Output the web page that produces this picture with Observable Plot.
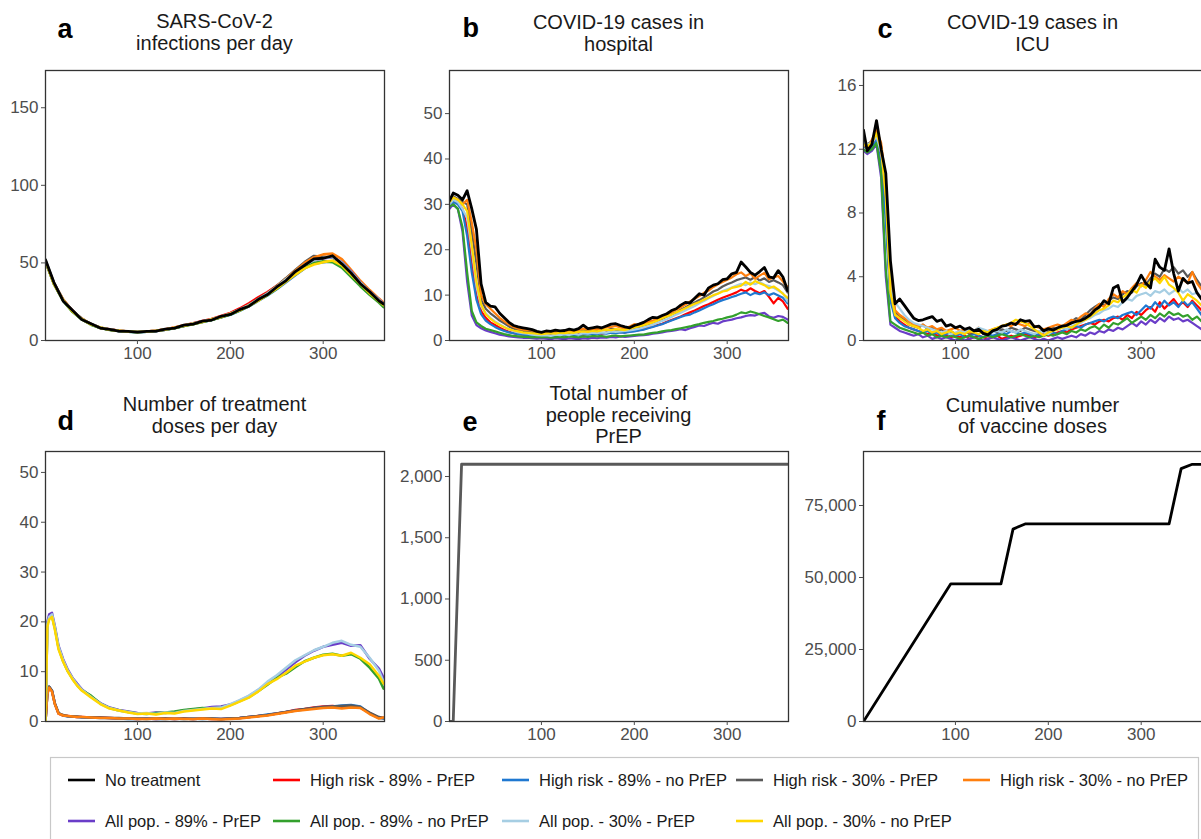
<!DOCTYPE html>
<html><head><meta charset="utf-8">
<script src="https://cdn.jsdelivr.net/npm/d3@7"></script>
<script src="https://cdn.jsdelivr.net/npm/@observablehq/plot@0.6"></script>
<style>
html,body{margin:0;padding:0;background:#fff;}
body{width:1201px;height:839px;overflow:hidden;position:relative;font-family:"Liberation Sans",Arial,sans-serif;}
.panel{position:absolute;}
.panel svg{max-width:none !important;display:block;background:transparent;}
.panel svg text{font-size:17px !important;font-family:"Liberation Sans",Arial,sans-serif !important;fill:#4d4d4d;}
#overlay{position:absolute;left:0;top:0;pointer-events:none;}
</style></head><body>
<div id="pa" class="panel" style="left:0px;top:60px"></div>
<div id="pb" class="panel" style="left:400px;top:60px"></div>
<div id="pc" class="panel" style="left:800px;top:60px"></div>
<div id="pd" class="panel" style="left:0px;top:441px"></div>
<div id="pe" class="panel" style="left:400px;top:441px"></div>
<div id="pf" class="panel" style="left:800px;top:441px"></div>
<script>
// ---------- series ----------
const SERIES = ["No treatment","High risk - 89% - PrEP","High risk - 89% - no PrEP","High risk - 30% - PrEP","High risk - 30% - no PrEP","All pop. - 89% - PrEP","All pop. - 89% - no PrEP","All pop. - 30% - PrEP","All pop. - 30% - no PrEP"];
const COLORS = ["#000000","#ff0000","#1f78d1","#595959","#ff7f0e","#6a3dc8","#33a02c","#a6cee3","#ffd700"];
const DRAW_ORDER = [1,2,3,4,5,6,7,8,0];

// ---------- day grids ----------
const DAYS10 = [1,10,20,30,40,50,60,70,80,90,100,110,120,130,140,150,160,170,180,190,200,210,220,230,240,250,260,270,280,290,300,310,320,330,340,350,360,365];
const DAYS5 = [1,5,10,15,20,25,30,35,40,45,50,55,60,65,70,75,80,85,90,95,100,105,110,115,120,125,130,135,140,145,150,155,160,165,170,175,180,185,190,195,200,205,210,215,220,225,230,235,240,245,250,255,260,265,270,275,280,285,290,295,300,305,310,315,320,325,330,335,340,345,350,355,360,365];
const DAYS_D = [1,3,5,8,11,15,20,25,30,35,40,50,60,70,80,90,100,110,120,130,140,150,160,170,180,190,200,210,220,230,240,250,260,270,280,290,300,310,320,330,340,350,360,365];

// ---------- a: SARS-CoV-2 infections per day (DAYS10), in SERIES order ----------
const infections = [
 [52,37.5,25.5,19.5,13.5,10.8,8.0,7.2,6.1,5.9,5.4,5.9,6.0,7.3,8.0,9.9,10.6,12.5,13.2,15.6,16.8,19.9,22.1,26.4,29.6,34.5,38.6,44.4,48.5,52.6,53.0,54.6,49.4,43.5,36.6,31.4,25.6,23.5],
 [51,37,26.2,19.3,13.8,10.6,8.1,7.2,6.3,5.8,5.6,5.8,6.3,7.2,8.3,9.8,11.1,12.5,13.9,15.8,17.8,20.6,24.0,27.8,31.2,35.3,39.5,44.6,48.8,52.0,53.2,53.5,49.8,43.2,36.8,31.2,26.0,23.2],
 [51,36.8,25.8,18.9,14.1,10.3,8.2,7.0,6.2,5.7,5.4,5.7,6.2,7.0,8.0,9.3,10.6,12.0,13.3,15.0,16.6,19.2,22.0,25.5,29.0,33.0,37.5,42.0,46.5,49.5,50.5,51.0,48.0,42.0,36.0,30.5,25.5,22.5],
 [51.5,36.5,26,18.8,14,10.6,8.2,7.0,6.2,5.9,5.5,5.9,6.1,7.1,8.1,9.5,10.9,12.3,13.4,15.0,17.2,19.8,22.8,26.8,30.5,35.2,40.2,45.5,50.5,54.5,54.0,53.5,50.0,44.0,37.5,31.0,26.5,23.0],
 [51,37,26.5,19,14.2,10.4,8.4,7.1,6.4,5.7,5.6,5.8,6.4,7.0,8.4,9.4,11.0,12.0,13.8,15.3,17.4,19.6,23.0,26.5,30.4,35.0,39.8,45.0,50.0,53.5,55.5,56.0,52.5,45.5,38.5,32.5,27.0,24.5],
 [51.5,37.0,26.0,19.0,14.0,10.5,8.2,7.0,6.2,5.8,5.5,5.7,6.2,7.0,8.1,9.5,10.8,12.2,13.5,15.2,17.0,19.6,22.6,26.2,30.0,34.2,39.0,43.8,48.5,51.5,53.0,53.5,50.5,44.5,37.5,31.5,26.5,23.5],
 [51,36.5,25.5,18.5,13.6,10.2,8.0,6.8,6.1,5.7,5.4,5.6,6.1,6.9,7.9,9.4,10.5,11.9,13.2,15.0,16.8,19.3,22.2,25.8,29.3,33.4,38.2,42.8,47.0,50.0,51.0,50.5,47.0,41.0,35.0,29.5,24.5,21.5],
 [52,37.2,26.1,19.1,14.0,10.6,8.3,7.1,6.3,5.8,5.6,5.8,6.3,7.1,8.2,9.6,10.9,12.3,13.6,15.4,17.3,19.8,22.8,26.5,30.3,34.6,39.4,44.2,48.6,51.8,53.2,53.8,50.2,44.0,37.2,31.3,26.2,23.2],
 [51.5,36.5,26.0,18.8,13.9,10.4,8.3,6.9,6.3,5.8,5.5,5.8,6.3,7.1,8.2,9.6,10.7,12.1,13.6,15.2,17.1,19.4,22.3,25.7,29.5,33.5,38.0,42.5,46.5,49.0,50.5,51.5,48.5,42.5,36.5,30.5,25.5,22.8]
];

// ---------- b: COVID-19 cases in hospital (DAYS5), in SERIES order ----------
const hospital = [
 [30.8,32.5,32.0,31.0,33.0,29.0,24.5,12.5,8.4,7.6, 7.4,6.0,5.0,4.0,3.3,3.0,2.8,2.6,2.4,2.0, 1.8,2.1,2.0,2.3,2.1,2.2,2.5,2.3,2.6,3.4, 2.6,2.8,3.0,2.8,3.2,3.6,3.7,3.3,3.0,2.8, 3.3,3.6,4.0,4.6,5.1,5.0,5.5,5.9,6.6,7.0, 7.8,8.4,8.3,9.3,10.3,10.0,11.6,12.2,12.5,13.4, 13.6,14.7,15.0,17.3,16.2,15.0,14.4,15.2,16.1,14.0, 13.8,15.4,14.0,11.0],
 [30,31,30.5,29,25,17,10,6.5,5.0,4.0, 3.4,2.8,2.3,1.9,1.6,1.4,1.3,1.2,1.1,1.0, 1.1,0.9,1.1,1.0,1.2,1.1,1.3,1.2,1.4,1.3, 1.5,1.4,1.6,1.5,1.7,1.8,1.7,1.9,1.8,2.0, 2.1,2.3,2.5,2.8,3.1,3.4,3.7,4.1,4.5,4.9, 5.3,5.8,6.2,6.6,7.1,7.6,8.0,8.5,9.0,9.4, 9.8,10.2,10.6,11.2,10.8,11.5,10.9,10.4,10.9,9.6, 8.2,9.4,8.6,7.0],
 [29.5,30.5,30,28.5,23,15,9,5.8,4.4,3.6, 3.0,2.5,2.1,1.8,1.6,1.4,1.3,1.2,1.0,1.1, 0.9,1.0,1.1,0.9,1.0,1.2,1.1,1.3,1.2,1.4, 1.3,1.5,1.4,1.6,1.5,1.7,1.6,1.8,1.7,1.9, 2.0,2.2,2.4,2.7,3.0,3.3,3.6,4.0,4.4,4.8, 5.2,5.5,5.7,6.2,6.6,7.1,7.6,8.0,8.5,8.9, 9.2,9.6,9.9,10.3,10.6,10.0,10.5,10.2,10.6,10.0, 10.4,9.9,9.4,8.2],
 [30.5,31.8,31.2,30.5,30,24,17,9,7,6, 5.2,4.4,3.8,3.1,2.6,2.3,2.1,2.0,1.8,1.6, 1.5,1.6,1.7,1.6,1.8,1.9,1.7,2.0,1.9,2.2, 2.0,2.3,2.1,2.4,2.2,2.6,2.4,2.3,2.5,2.4, 2.8,3.0,3.3,3.6,4.0,4.4,4.8,5.3,5.8,6.2, 6.8,7.3,7.9,8.4,8.9,9.5,10.1,10.8,11.2,11.9, 12.4,12.8,13.3,13.6,13.9,13.4,14.0,13.2,13.7,12.9, 13.3,12.8,12.2,10.6],
 [31,31.5,31,30,31,26,20,10,8,7, 6,5,4.2,3.5,3,2.6,2.4,2.3,2.2,1.9, 1.7,1.8,1.9,2.0,1.8,2.0,2.2,2.0,2.3,2.6, 2.4,2.6,2.5,2.7,2.9,3.0,3.2,2.9,2.7,3.1, 3.6,3.3,3.7,4.1,4.4,4.8,5.2,5.6,6.2,6.8, 7.3,7.9,8.6,9.2,9.8,10.5,11.0,11.8,12.4,12.9, 13.4,13.9,14.6,15.0,14.2,14.8,13.6,14.3,14.9,13.5, 13.9,14.2,13.0,11.8],
 [29,30,29,24,13,5.5,3.4,2.7,2.2,1.9, 1.6,1.3,1.1,0.9,0.8,0.7,0.6,0.6,0.5,0.4, 0.5,0.4,0.3,0.5,0.4,0.3,0.5,0.4,0.3,0.5, 0.4,0.6,0.5,0.7,0.6,0.8,0.7,0.9,0.8,0.9, 1.0,1.1,1.2,1.3,1.5,1.6,1.8,2.0,2.1,2.3, 2.5,2.3,2.7,3.0,3.3,3.2,3.6,3.9,3.7,4.2, 4.4,4.6,4.9,5.1,5.4,5.6,5.5,5.9,6.1,5.3, 5.0,5.4,5.2,4.6],
 [29.5,30,29,25,15,6.5,4.0,3.2,2.6,2.3, 2.0,1.7,1.4,1.2,1.0,0.9,0.8,0.8,0.7,0.8, 0.7,0.8,0.6,0.7,0.8,0.7,0.9,0.8,0.7,0.9, 0.8,1.0,0.9,1.0,0.8,1.0,1.1,0.9,1.0,1.1, 1.2,1.3,1.3,1.5,1.7,1.8,2.0,2.2,2.3,2.5, 2.7,2.9,3.1,3.4,3.6,3.9,4.1,4.3,4.6,4.8, 5.1,5.3,5.7,6.2,6.0,6.4,6.1,5.8,5.4,5.1, 4.7,4.3,4.6,3.9],
 [30,31,30.5,29,27,20,12,7.5,6,5, 4.2,3.6,3.0,2.5,2.1,1.8,1.6,1.5,1.3,1.2, 1.1,1.2,1.0,1.3,1.2,1.4,1.2,1.5,1.3,1.6, 1.5,1.7,1.6,1.8,1.7,2.0,1.9,2.0,2.1,2.2, 2.4,2.6,2.9,3.2,3.5,3.9,4.3,4.7,5.2,5.7, 6.1,6.6,7.1,7.6,8.2,8.7,9.3,9.8,10.4,10.9, 11.3,11.7,12.1,12.5,12.2,12.8,12.4,12.9,12.3,12.0, 11.6,11.0,10.4,8.6],
 [30.5,31.5,31,30,28.5,21,13,8,5.8,4.8, 4.0,3.4,2.9,2.5,2.2,2.0,1.8,1.7,1.6,1.5, 1.4,1.5,1.6,1.5,1.7,1.6,1.8,1.7,1.9,2.0, 1.9,2.1,2.0,2.2,2.4,2.3,2.5,2.4,2.3,2.6, 2.9,3.1,3.4,3.7,4.0,4.4,4.9,5.3,5.7,6.2, 6.6,7.1,7.6,8.1,8.5,9.0,9.5,10.0,10.3,10.8, 11.0,11.6,11.8,12.1,12.9,12.3,13.1,12.6,12.2,11.5, 11.9,11.2,10.3,9.4]
];

// ---------- c: COVID-19 cases in ICU (DAYS5), in SERIES order ----------
const icu = [
 [13.2,11.9,12.3,13.8,12.0,10.5,5.0,2.3,2.6,2.2, 1.8,1.4,1.25,1.3,1.4,1.5,1.2,1.3,0.9,1.0, 0.8,0.9,0.7,0.8,0.6,0.7,0.45,0.35,0.6,0.7, 0.9,0.95,1.1,1.0,1.3,1.2,1.25,0.85,0.9,0.6, 0.75,0.65,0.8,0.9,0.95,1.1,1.2,1.25,1.4,1.6, 1.9,2.1,2.5,2.3,3.3,3.45,2.4,2.7,3.1,3.5, 4.1,3.6,3.3,5.1,4.6,4.4,5.75,4.2,3.1,3.9, 3.6,3.7,3.0,2.6],
 [12.3,12.1,12.2,12.7,11.5,8.0,2.8,1.5,1.2,1.0, 0.8,0.7,0.6,0.5,0.4,0.5,0.3,0.4,0.3,0.2, 0.3,0.2,0.3,0.1,0.2,0.3,0.2,0.1,0.2,0.3, 0.1,0.2,0.3,0.2,0.3,0.4,0.3,0.2,0.3,0.4, 0.3,0.4,0.5,0.6,0.5,0.7,0.8,0.9,1.0,1.1, 1.0,1.2,1.3,1.2,1.4,1.5,1.3,1.6,1.4,1.8, 1.6,1.9,2.1,1.8,2.4,2.0,2.3,2.6,2.2,2.4, 2.1,2.5,2.2,1.9],
 [12.2,12.0,12.1,12.6,11.0,7.5,2.5,1.4,1.1,0.9, 0.8,0.7,0.6,0.5,0.6,0.4,0.5,0.3,0.4,0.5, 0.3,0.4,0.2,0.3,0.4,0.3,0.2,0.4,0.3,0.4, 0.5,0.4,0.6,0.5,0.4,0.5,0.4,0.3,0.4,0.3, 0.4,0.5,0.4,0.6,0.7,0.8,0.9,0.8,1.0,1.1, 1.2,1.3,1.2,1.4,1.5,1.4,1.6,1.7,1.8,1.6, 1.9,2.2,2.0,2.4,2.1,2.5,2.2,2.4,2.1,2.5, 2.2,2.4,2.0,1.6],
 [12.6,12.3,12.5,13.0,12.2,9.5,3.5,1.8,1.5,1.3, 1.0,0.9,0.8,1.0,0.7,0.8,0.6,0.7,0.5,0.6, 0.4,0.5,0.6,0.4,0.5,0.7,0.4,0.5,0.6,0.5, 0.7,0.6,0.8,0.7,0.6,0.8,0.7,0.6,0.5,0.7, 0.6,0.8,0.7,0.9,1.0,1.2,1.4,1.3,1.6,1.9, 2.1,2.3,2.2,2.5,2.7,2.6,2.9,3.1,3.0,3.4, 3.6,3.5,3.9,4.2,4.0,4.5,4.3,4.6,4.2,4.4, 4.0,4.3,3.8,3.4],
 [12.4,12.0,12.6,13.2,12.4,10.0,4.0,1.9,1.6,1.4, 1.2,1.0,0.9,1.0,0.8,0.9,0.7,0.8,0.6,0.7, 0.8,0.6,0.7,0.5,0.6,0.8,0.5,0.6,0.7,0.8, 0.9,1.0,0.9,1.1,1.0,0.9,1.1,0.9,0.8,0.7, 0.8,0.9,1.0,0.9,1.1,1.3,1.2,1.5,1.7,1.6, 2.0,2.3,2.1,2.6,2.9,2.7,3.1,2.9,3.3,3.6, 3.4,3.8,4.3,4.0,3.8,4.1,3.9,3.7,4.0,3.8, 3.6,4.3,3.6,3.2],
 [11.9,11.7,11.9,12.3,10.2,4.0,1.0,0.8,0.6,0.5, 0.4,0.3,0.4,0.2,0.3,0.1,0.2,0.1,0.2,0.1, 0.0,0.1,0.0,0.1,0.2,0.1,0.0,0.1,0.2,0.1, 0.0,0.1,0.2,0.1,0.0,0.1,0.2,0.1,0.0,0.1, 0.0,0.1,0.2,0.1,0.2,0.3,0.2,0.4,0.3,0.5, 0.4,0.6,0.5,0.7,0.6,0.8,0.7,0.9,1.1,0.9, 1.2,1.0,1.3,1.1,1.4,1.2,1.5,1.3,1.4,1.2, 1.3,1.1,0.9,0.7],
 [12.0,11.8,12.0,12.4,10.5,4.5,1.2,1.0,0.8,0.7, 0.6,0.5,0.4,0.5,0.3,0.4,0.2,0.3,0.2,0.3, 0.2,0.1,0.2,0.3,0.2,0.1,0.2,0.3,0.2,0.3, 0.4,0.3,0.2,0.3,0.4,0.3,0.2,0.3,0.2,0.3, 0.4,0.3,0.4,0.5,0.4,0.6,0.5,0.7,0.6,0.8, 0.9,0.7,1.0,0.8,1.1,1.0,1.2,1.4,1.1,1.3, 1.5,1.3,1.6,1.4,1.7,1.5,1.8,1.6,1.7,1.5, 1.6,1.3,1.5,1.2],
 [12.5,12.3,12.4,12.8,11.8,9.5,3.2,2.4,2.0,1.6, 1.3,1.1,1.0,0.9,0.8,0.7,0.6,0.5,0.6,0.4, 0.5,0.6,0.5,0.7,0.6,0.8,0.7,0.6,0.5,0.6, 0.5,0.7,0.6,0.5,0.7,0.6,0.5,0.4,0.6,0.5, 0.4,0.6,0.7,0.8,0.7,0.9,1.0,1.1,1.3,1.4, 1.6,1.7,1.9,2.0,2.2,2.1,2.4,2.6,2.5,2.8, 2.9,3.0,2.8,3.1,3.0,3.2,2.9,3.1,3.3,3.0, 3.2,2.9,3.0,2.7],
 [12.3,12.2,12.4,13.0,12.0,9.0,3.0,1.6,1.4,1.2, 1.0,0.9,0.8,0.6,0.7,0.5,0.6,0.4,0.5,0.6, 0.4,0.5,0.4,0.6,0.5,0.4,0.6,0.5,0.7,0.8, 0.9,1.0,1.1,1.3,1.2,1.1,0.9,0.7,0.5,0.3, 0.5,0.6,0.7,0.8,0.9,0.8,1.0,1.2,1.3,1.5, 1.7,1.9,2.0,2.2,2.5,2.4,2.7,2.9,3.2,3.0, 3.5,3.3,3.7,3.9,3.6,4.0,3.5,3.3,3.0,2.5, 2.9,2.7,2.5,2.2]
];

// ---------- d: treatment doses per day (DAYS_D), in SERIES order (no-treatment has none) ----------
const doses = [
 null,
 [0,5.6,6.9,6.1,3.6,1.6,1.2,1.1,1.0,0.9,0.9, 0.8,0.8,0.7,0.6,0.6,0.5,0.6,0.5,0.6,0.5, 0.6,0.5,0.6,0.5,0.5,0.6,0.7,0.9,1.1,1.3, 1.6,1.9,2.3,2.5,2.8,3.0,3.1,2.9,3.0,2.8, 1.7,0.8,0.7],
 [0,5.7,7.0,6.2,3.6,1.7,1.2,1.0,1.0,0.9,0.8, 0.8,0.7,0.7,0.6,0.5,0.5,0.6,0.5,0.5,0.6, 0.5,0.6,0.5,0.6,0.5,0.6,0.7,0.9,1.1,1.4, 1.6,1.9,2.2,2.4,2.7,2.9,3.0,3.2,3.3,3.0, 1.6,0.7,0.6],
 [0,5.8,7.0,6.2,3.7,1.7,1.3,1.1,1.0,1.0,0.9, 0.8,0.8,0.7,0.7,0.6,0.6,0.5,0.6,0.6,0.5, 0.6,0.5,0.6,0.6,0.5,0.6,0.7,0.9,1.1,1.3, 1.6,1.9,2.2,2.5,2.7,2.9,3.0,3.1,3.2,2.9, 1.8,0.9,0.7],
 [0,5.5,6.8,6.0,3.5,1.6,1.2,1.1,1.0,0.9,0.9, 0.8,0.7,0.7,0.6,0.6,0.5,0.5,0.6,0.5,0.6, 0.5,0.5,0.6,0.5,0.4,0.5,0.6,0.8,1.0,1.2, 1.5,1.8,2.1,2.3,2.5,2.7,2.8,2.6,2.8,2.7, 1.5,0.6,0.8],
 [0,20,21.5,21.8,19.2,15.2,12.5,10.4,8.8,7.6,6.5, 5.0,3.7,2.8,2.3,2.0,1.7,1.6,1.8,1.7,1.9, 2.2,2.4,2.6,2.9,3.0,3.4,4.2,5.1,6.3,7.6, 9.0,10.4,11.9,13.2,14.2,15.0,15.4,15.8,15.2,15.3, 12.6,10.6,8.8],
 [0,19.5,20.8,21.2,18.8,14.8,12.1,10.1,8.6,7.3,6.3, 5.2,3.6,2.7,2.2,1.9,1.6,1.5,1.7,1.8,2.0, 2.3,2.5,2.7,2.6,2.8,3.3,4.1,4.9,6.1,7.4, 8.8,9.6,10.9,12.1,12.8,13.4,13.6,13.2,13.5,12.6, 10.8,8.6,6.6],
 [0,19.5,21,21.5,19,15,12.3,10.2,8.7,7.4,6.4, 4.9,3.6,2.7,2.2,1.9,1.6,1.7,1.5,1.8,1.7, 2.1,2.3,2.5,2.7,2.8,3.5,4.3,5.2,6.4,8.0, 9.3,10.8,12.3,13.3,14.3,15.0,15.8,16.2,15.4,15.0, 12.8,10.2,8.0],
 [0,19,20.5,21,18.5,14.5,12,10,8.5,7.2,6.2, 4.8,3.5,2.6,2.2,1.8,1.5,1.6,1.4,1.7,1.6, 2.0,2.2,2.4,2.6,2.5,3.2,4.0,4.8,6.0,7.5, 8.5,9.8,11.2,12.0,12.8,13.3,13.5,13.2,13.8,12.8, 11.5,9.2,7.6]
];

// ---------- e: total number of people receiving PrEP ----------
const PREP_SERIES = "High risk - 30% - PrEP";
const prepDays = [1,5,14,365];
const prepPeople = [0,0,2100,2100];

// ---------- f: cumulative number of vaccine doses ----------
const VAX_SERIES = "No treatment";
const vaxDays = [1,95,149,162,175,330,343,355,365];
const vaxDoses = [0,47800,47800,66800,68600,68600,87800,89300,89300];

// ---------- panel text ----------
const TITLES = [
 ["SARS-CoV-2","infections per day"],
 ["COVID-19 cases in","hospital"],
 ["COVID-19 cases in","ICU"],
 ["Number of treatment","doses per day"],
 ["Total number of","people receiving","PrEP"],
 ["Cumulative number","of vaccine doses"]
];
const LETTERS = ["a","b","c","d","e","f"];
const LEGEND_ROWS = [[0,1,2,3,4],[5,6,7,8]];

// ---------- helpers ----------
const FONT = "Liberation Sans, Arial, Helvetica, sans-serif";
const TICK_FS = 17;
function tidy(days, table) {
  const out = [];
  for (const i of DRAW_ORDER) {
    const vals = table[i];
    if (!vals) continue;
    vals.forEach((v, k) => out.push({day: days[k], value: v, series: SERIES[i]}));
  }
  return out;
}
function axes(yTicks, fmt) {
  return [
    Plot.frame({stroke: "#333333", strokeWidth: 1.3}),
    Plot.axisX({ticks: [100, 200, 300], tickSize: 4, tickPadding: 2, label: null, fontSize: TICK_FS}),
    Plot.axisY({ticks: yTicks, tickSize: 4, tickPadding: 3, label: null, fontSize: TICK_FS, tickFormat: fmt || (d => String(d))})
  ];
}
function basePlot(marginLeft, yDomain, marks) {
  return Plot.plot({
    width: marginLeft + 339 + 6, height: 305,
    marginLeft, marginRight: 6, marginTop: 10, marginBottom: 25,
    x: {domain: [1, 366]},
    y: {domain: yDomain},
    color: {domain: SERIES, range: COLORS},
    style: {fontFamily: FONT, fontSize: TICK_FS + "px", color: "#4d4d4d", background: "transparent"},
    marks
  });
}
function panel(id, {data, yDomain, yTicks, marginLeft, sw = 2.2}) {
  const colored = data.filter(d => d.series !== SERIES[0]);
  const black = data.filter(d => d.series === SERIES[0]);
  const plot = basePlot(marginLeft, yDomain, [
    Plot.line(colored, {x: "day", y: "value", z: "series", stroke: "series", strokeWidth: sw, clip: true}),
    Plot.line(black, {x: "day", y: "value", z: "series", stroke: "series", strokeWidth: 2.8, clip: true}),
    ...axes(yTicks)
  ]);
  document.getElementById(id).appendChild(plot);
}
const comma = d3.format(",");

panel("pa", {data: tidy(DAYS10, infections), yDomain: [0, 174], yTicks: [0,50,100,150], marginLeft: 45, sw: 2.6});
panel("pb", {data: tidy(DAYS5, hospital), yDomain: [0, 59.5], yTicks: [0,10,20,30,40,50], marginLeft: 49});
panel("pc", {data: tidy(DAYS5, icu), yDomain: [0, 16.94], yTicks: [0,4,8,12,16], marginLeft: 63});
panel("pd", {data: tidy(DAYS_D, doses), yDomain: [0, 54.2], yTicks: [0,10,20,30,40,50], marginLeft: 45, sw: 2.5});

// e
{
  const data = prepDays.map((d, k) => ({day: d, value: prepPeople[k], series: PREP_SERIES}));
  const plot = basePlot(49, [0, 2204], [
    Plot.line(data, {x: "day", y: "value", stroke: "series", strokeWidth: 2.8, clip: true}),
    ...axes([0,500,1000,1500,2000], comma)
  ]);
  document.getElementById("pe").appendChild(plot);
}
// f
{
  const data = vaxDays.map((d, k) => ({day: d, value: vaxDoses[k], series: VAX_SERIES}));
  const plot = basePlot(63, [0, 93750], [
    Plot.line(data, {x: "day", y: "value", stroke: "series", strokeWidth: 2.8, clip: true}),
    ...axes([0,25000,50000,75000], comma)
  ]);
  document.getElementById("pf").appendChild(plot);
}

// ---------- overlay: titles, panel letters, legend ----------
const svg = d3.select("body").append("svg").attr("id", "overlay")
  .attr("width", 1201).attr("height", 839)
  .style("font-family", FONT);

const titleCenters = [214.5, 618.5, 1032.5, 214.5, 618.5, 1032.5];
const titleFirstBase = [28.3, 29.3, 29.3, 410.7, 400, 411.7];
const titleStep = [22, 21.5, 21.5, 22, 21.7, 21];
TITLES.forEach((lines, i) => {
  lines.forEach((t, j) => {
    svg.append("text").attr("x", titleCenters[i]).attr("y", titleFirstBase[i] + j * titleStep[i])
      .attr("text-anchor", "middle").attr("font-size", 20).attr("fill", "#1a1a1a").text(t);
  });
});
const letterX = [57.5, 462.5, 877.5, 57.5, 462.5, 876.5];
const letterY = [38.3, 37.3, 37.5, 430, 430.7, 430];
LETTERS.forEach((l, i) => {
  svg.append("text").attr("x", letterX[i]).attr("y", letterY[i])
    .attr("font-size", 27).attr("font-weight", "bold").attr("fill", "#000").text(l);
});

// legend box
svg.append("rect").attr("x", 50.5).attr("y", 757.5).attr("width", 1148).attr("height", 120)
  .attr("fill", "none").attr("stroke", "#c8c8c8").attr("stroke-width", 1.2);
const colX = [68, 273, 502, 736, 963];
const rowY = [780, 821];
LEGEND_ROWS.forEach((row, r) => {
  row.forEach((si, c) => {
    svg.append("line").attr("x1", colX[c]).attr("x2", colX[c] + 27)
      .attr("y1", rowY[r]).attr("y2", rowY[r])
      .attr("stroke", COLORS[si]).attr("stroke-width", 2.6);
    svg.append("text").attr("x", colX[c] + 37).attr("y", rowY[r]).attr("dy", "0.35em")
      .attr("font-size", 16.5).attr("fill", "#1a1a1a").text(SERIES[si]);
  });
});
</script>
</body></html>
